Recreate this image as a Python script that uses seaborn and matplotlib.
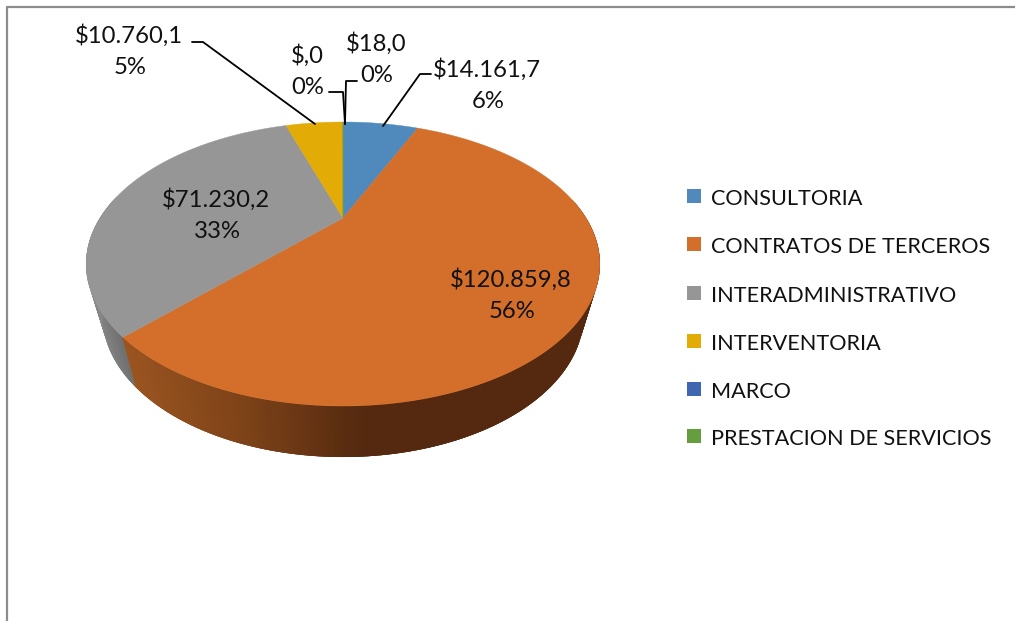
import numpy as np
import seaborn as sns
import matplotlib.pyplot as plt

categories = ['CONSULTORIA', 'CONTRATOS DE TERCEROS', 'INTERADMINISTRATIVO',
              'INTERVENTORIA', 'MARCO', 'PRESTACION DE SERVICIOS']
values = [14161.7, 120859.8, 71230.2, 10760.1, 0.0, 18.0]
value_labels = ['$14.161,7', '$120.859,8', '$71.230,2', '$10.760,1', '$,0', '$18,0']
pct_labels = ['6%', '56%', '33%', '5%', '0%', '0%']
colors = ['#5089BC', '#D36F2B', '#969696', '#E2AB05', '#3F66AE', '#659E3E']

sns.set_theme(style='white')
plt.rcParams['font.family'] = ['Lato', 'DejaVu Sans']

fig = plt.figure(figsize=(10.15, 6.21), dpi=100)
ax = fig.add_axes([0, 0, 1, 1])
ax.set_xlim(0, 1015)
ax.set_ylim(621, 0)
ax.axis('off')

# frame, only top and left show in the picture
ax.plot([7.5, 7.5, 1015], [621, 6.5, 6.5], color='#8c8c8c', lw=1.6, solid_capstyle='butt')

# pie is seen in perspective, apex is not in the middle of the ellipse
cx, cy = 343, 218
b = 0.324
a = 127.1
c = 243.0
depth = 51
shrink = 0.937


def project(theta):
    u = np.sin(theta)
    v = np.cos(theta)
    d = 1 + b * v
    return c * u / d, -a * v / d


shares = np.array(values) / sum(values)
edges = np.concatenate([[0], np.cumsum(shares)]) * 2 * np.pi

# side wall first, top faces go over it
# each quad runs on under the next one so no seams show
orange_wall = sns.blend_palette(['#9A5420', '#7C4218', '#54290F'], 60)
gray_wall = sns.blend_palette(['#8A8A8A', '#6E6E6E'], 10)
wall_t = np.linspace(np.pi / 2 - 0.15, 3 * np.pi / 2 + 0.15, 241)
step = wall_t[1] - wall_t[0]
for t0 in wall_t[:-1]:
    t1 = t0 + step * 3
    x0, y0 = project(t0)
    x1, y1 = project(t1)
    xm = cx + x0 * shrink
    if t0 < edges[2]:
        f = np.clip((xm - 138) / (363 - 138), 0, 1)
        col = orange_wall[int(f * 59)]
    else:
        f = np.clip((138 - xm) / 40, 0, 1)
        col = gray_wall[int((1 - f) * 9)]
    ts = np.linspace(t0, t1, 4)
    xs, ys = project(ts)
    ax.fill(np.r_[cx + xs, cx + xs[::-1] * shrink],
            np.r_[cy + ys, cy + ys[::-1] + depth],
            color=col, lw=0, zorder=2)

for i in range(len(values)):
    if shares[i] == 0:
        continue
    t = np.linspace(edges[i], edges[i + 1], 200)
    xs, ys = project(t)
    ax.fill(np.r_[cx, cx + xs], np.r_[cy, cy + ys], color=colors[i], lw=0.3, zorder=3)

# labels
label_pos = [(487, 69.5), (511, 280), (216, 200), (129, 35.5), (307, 55.5), (376, 43.5)]
for i in range(len(values)):
    lx, ly = label_pos[i]
    ax.text(lx, ly, value_labels[i], ha='center', va='center', fontsize=17.2,
            color='#111111', zorder=5)
    ax.text(lx + 1, ly + 32, pct_labels[i], ha='center', va='center', fontsize=17.2,
            color='#111111', zorder=5)

leaders = [
    ([431, 420, 383], [74, 74, 126]),
    ([192, 203, 315], [42, 42, 124]),
    ([329, 343, 345], [92, 92, 124]),
    ([357, 346, 345], [81, 81, 124]),
]
for lx, ly in leaders:
    ax.plot(lx, ly, color='black', lw=1.3, zorder=4)

# legend
leg_y = [196, 244, 293, 341, 389, 436]
for name, col, y in zip(categories, colors, leg_y):
    ax.fill([687, 701, 701, 687], [y - 7, y - 7, y + 7, y + 7], color=col, lw=0)
    ax.text(711, y + 3, name, ha='left', va='center', fontsize=15.6, color='#111111')

fig.savefig('out.png', dpi=100)
